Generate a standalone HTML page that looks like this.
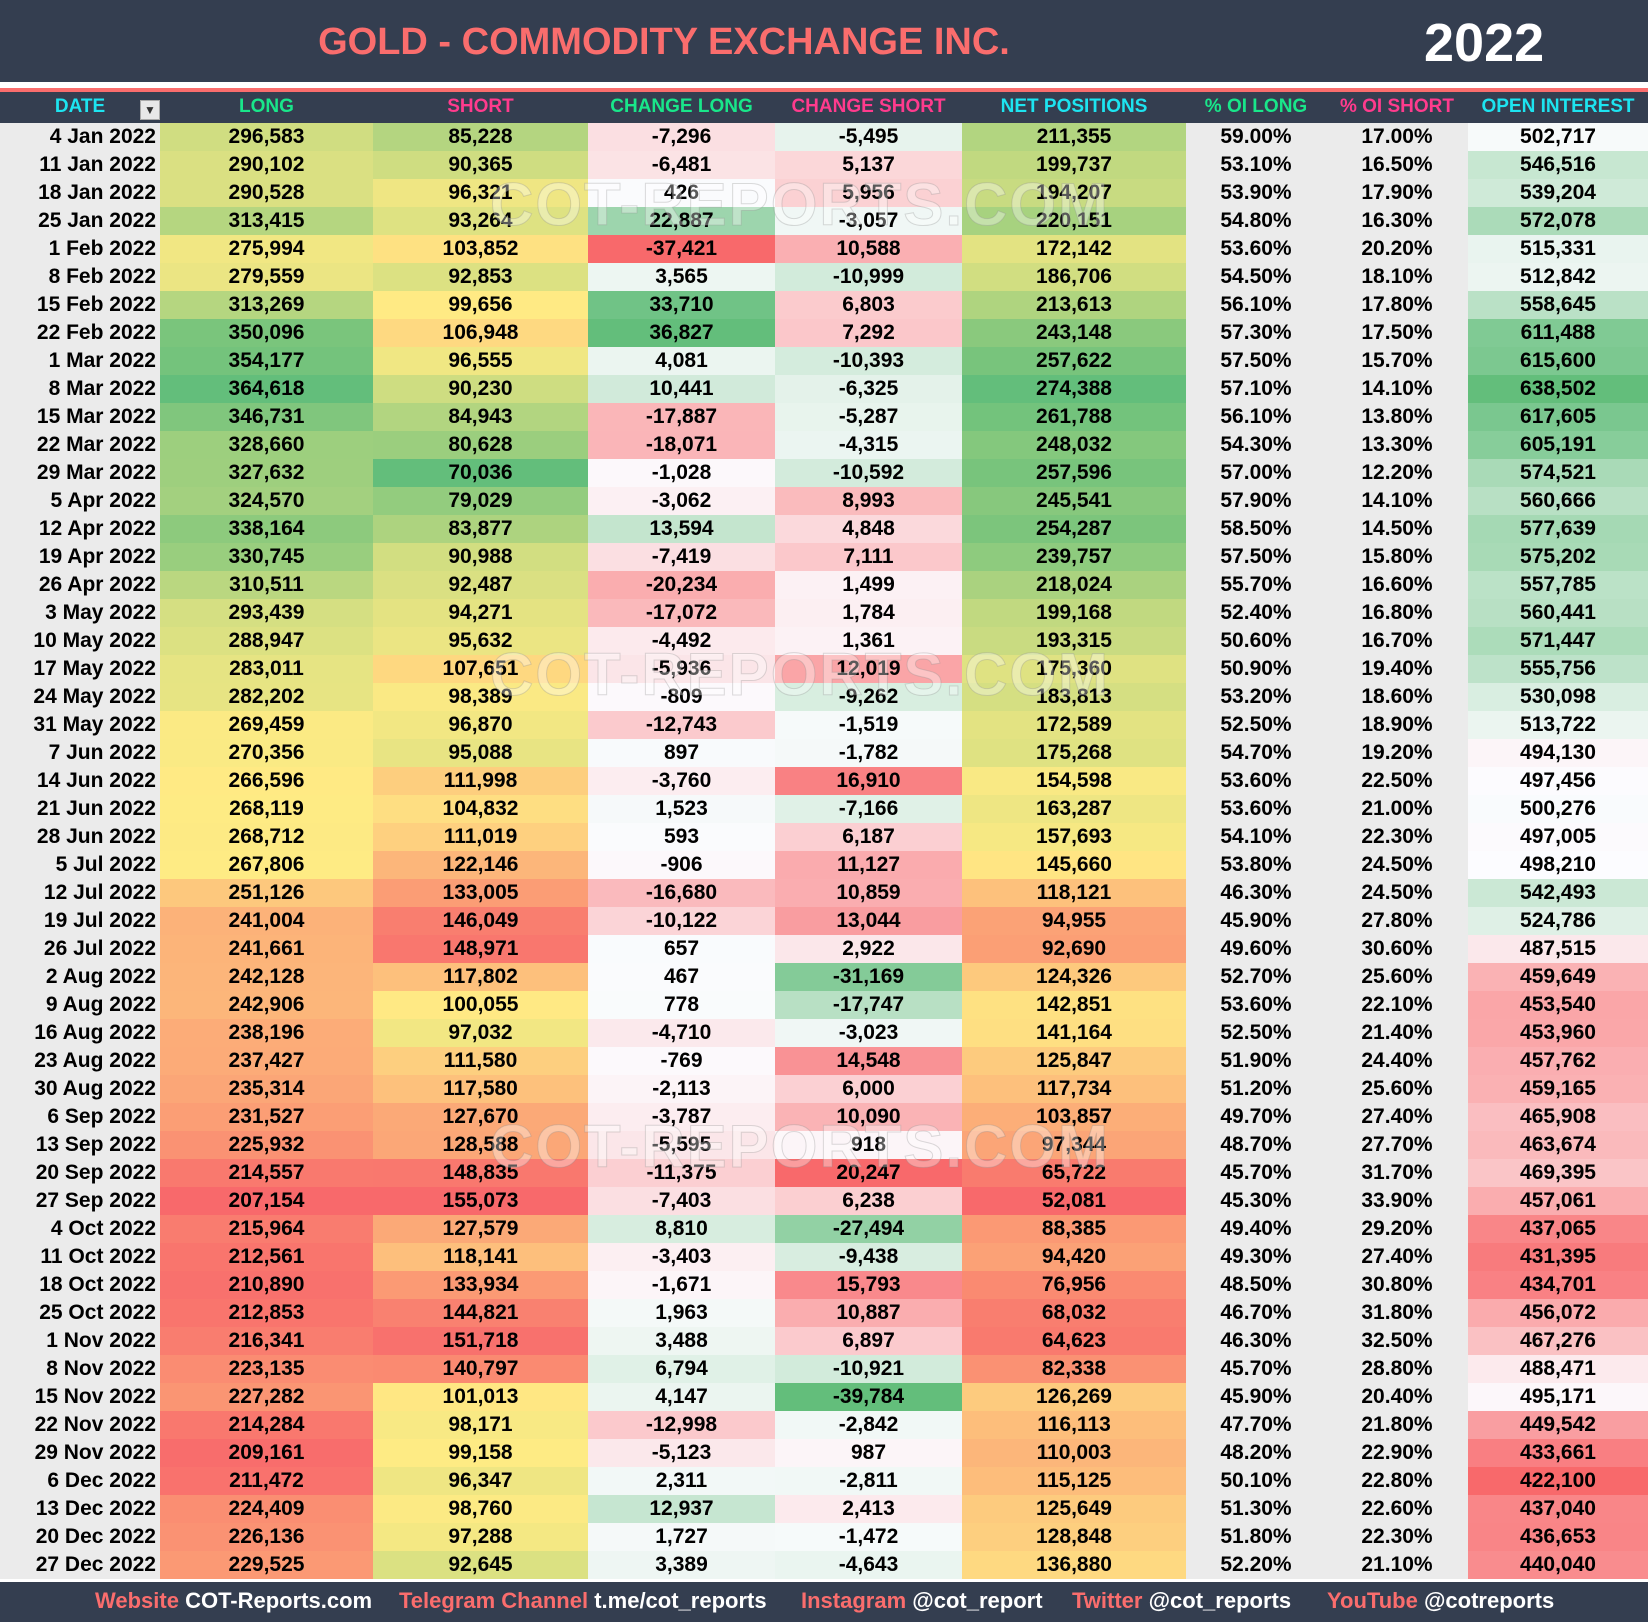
<!DOCTYPE html><html><head><meta charset="utf-8"><style>
body{margin:0;width:1648px;height:1622px;background:#fff;position:relative;overflow:hidden;font-family:"Liberation Sans",Arial,sans-serif}
#top{position:absolute;left:0;top:0;width:1648px;height:82px;background:#343e50}
#title{position:absolute;left:0;width:1328px;top:21px;text-align:center;color:#fa6d6d;font-weight:bold;font-size:38px}
#year{position:absolute;left:1424px;top:12px;color:#fff;font-weight:bold;font-size:54px}
#red{position:absolute;left:0;top:88px;width:1648px;height:4px;background:#fa6d6d}
#hdr{position:absolute;left:0;top:92px;width:1648px;height:31px;background:#343e50}
.h{position:absolute;top:96px;font-weight:bold;font-size:19px;text-align:center}
.c{position:absolute;font-weight:bold;font-size:21px;text-align:center;color:#000}
#foot{position:absolute;left:0;top:1582px;width:1648px;height:40px;background:#343e50;font-size:22px;color:#fff;line-height:38px;font-weight:bold}
#foot span.r{color:#fa6d6d}
.wm{position:absolute;font-size:60px;font-weight:bold;color:rgba(255,255,255,0.35);-webkit-text-stroke:1px rgba(140,140,140,0.3);letter-spacing:2px;white-space:nowrap}
</style></head><body>
<div id="top"></div><div id="title">GOLD - COMMODITY EXCHANGE INC.</div><div id="year">2022</div>
<div id="red"></div><div id="hdr"></div>
<div id="tbl"></div>
<div class="wm" style="left:490px;top:170px">COT-REPORTS.COM</div>
<div class="wm" style="left:490px;top:640px">COT-REPORTS.COM</div>
<div class="wm" style="left:490px;top:1112px">COT-REPORTS.COM</div>
<div id="foot">
<div style="position:absolute;left:95px"><span class="r">Website</span> COT-Reports.com</div>
<div style="position:absolute;left:399px"><span class="r">Telegram Channel</span> t.me/cot_reports</div>
<div style="position:absolute;left:801px"><span class="r">Instagram</span> @cot_report</div>
<div style="position:absolute;left:1072px"><span class="r">Twitter</span> @cot_reports</div>
<div style="position:absolute;left:1327px"><span class="r">YouTube</span> @cotreports</div>
</div>
<script>
var D=`4 Jan 2022|296583|85228|-7296|-5495|211355|59.00%|17.00%|502717
11 Jan 2022|290102|90365|-6481|5137|199737|53.10%|16.50%|546516
18 Jan 2022|290528|96321|426|5956|194207|53.90%|17.90%|539204
25 Jan 2022|313415|93264|22887|-3057|220151|54.80%|16.30%|572078
1 Feb 2022|275994|103852|-37421|10588|172142|53.60%|20.20%|515331
8 Feb 2022|279559|92853|3565|-10999|186706|54.50%|18.10%|512842
15 Feb 2022|313269|99656|33710|6803|213613|56.10%|17.80%|558645
22 Feb 2022|350096|106948|36827|7292|243148|57.30%|17.50%|611488
1 Mar 2022|354177|96555|4081|-10393|257622|57.50%|15.70%|615600
8 Mar 2022|364618|90230|10441|-6325|274388|57.10%|14.10%|638502
15 Mar 2022|346731|84943|-17887|-5287|261788|56.10%|13.80%|617605
22 Mar 2022|328660|80628|-18071|-4315|248032|54.30%|13.30%|605191
29 Mar 2022|327632|70036|-1028|-10592|257596|57.00%|12.20%|574521
5 Apr 2022|324570|79029|-3062|8993|245541|57.90%|14.10%|560666
12 Apr 2022|338164|83877|13594|4848|254287|58.50%|14.50%|577639
19 Apr 2022|330745|90988|-7419|7111|239757|57.50%|15.80%|575202
26 Apr 2022|310511|92487|-20234|1499|218024|55.70%|16.60%|557785
3 May 2022|293439|94271|-17072|1784|199168|52.40%|16.80%|560441
10 May 2022|288947|95632|-4492|1361|193315|50.60%|16.70%|571447
17 May 2022|283011|107651|-5936|12019|175360|50.90%|19.40%|555756
24 May 2022|282202|98389|-809|-9262|183813|53.20%|18.60%|530098
31 May 2022|269459|96870|-12743|-1519|172589|52.50%|18.90%|513722
7 Jun 2022|270356|95088|897|-1782|175268|54.70%|19.20%|494130
14 Jun 2022|266596|111998|-3760|16910|154598|53.60%|22.50%|497456
21 Jun 2022|268119|104832|1523|-7166|163287|53.60%|21.00%|500276
28 Jun 2022|268712|111019|593|6187|157693|54.10%|22.30%|497005
5 Jul 2022|267806|122146|-906|11127|145660|53.80%|24.50%|498210
12 Jul 2022|251126|133005|-16680|10859|118121|46.30%|24.50%|542493
19 Jul 2022|241004|146049|-10122|13044|94955|45.90%|27.80%|524786
26 Jul 2022|241661|148971|657|2922|92690|49.60%|30.60%|487515
2 Aug 2022|242128|117802|467|-31169|124326|52.70%|25.60%|459649
9 Aug 2022|242906|100055|778|-17747|142851|53.60%|22.10%|453540
16 Aug 2022|238196|97032|-4710|-3023|141164|52.50%|21.40%|453960
23 Aug 2022|237427|111580|-769|14548|125847|51.90%|24.40%|457762
30 Aug 2022|235314|117580|-2113|6000|117734|51.20%|25.60%|459165
6 Sep 2022|231527|127670|-3787|10090|103857|49.70%|27.40%|465908
13 Sep 2022|225932|128588|-5595|918|97344|48.70%|27.70%|463674
20 Sep 2022|214557|148835|-11375|20247|65722|45.70%|31.70%|469395
27 Sep 2022|207154|155073|-7403|6238|52081|45.30%|33.90%|457061
4 Oct 2022|215964|127579|8810|-27494|88385|49.40%|29.20%|437065
11 Oct 2022|212561|118141|-3403|-9438|94420|49.30%|27.40%|431395
18 Oct 2022|210890|133934|-1671|15793|76956|48.50%|30.80%|434701
25 Oct 2022|212853|144821|1963|10887|68032|46.70%|31.80%|456072
1 Nov 2022|216341|151718|3488|6897|64623|46.30%|32.50%|467276
8 Nov 2022|223135|140797|6794|-10921|82338|45.70%|28.80%|488471
15 Nov 2022|227282|101013|4147|-39784|126269|45.90%|20.40%|495171
22 Nov 2022|214284|98171|-12998|-2842|116113|47.70%|21.80%|449542
29 Nov 2022|209161|99158|-5123|987|110003|48.20%|22.90%|433661
6 Dec 2022|211472|96347|2311|-2811|115125|50.10%|22.80%|422100
13 Dec 2022|224409|98760|12937|2413|125649|51.30%|22.60%|437040
20 Dec 2022|226136|97288|1727|-1472|128848|51.80%|22.30%|436653
27 Dec 2022|229525|92645|3389|-4643|136880|52.20%|21.10%|440040`.split("\n").map(l=>l.split("|"));
var X=[0,160,373,588,775,962,1186,1326,1468,1648];
var H=[["DATE","#1de4f0"],["LONG","#19e68a"],["SHORT","#ff3b8d"],["CHANGE LONG","#19e68a"],["CHANGE SHORT","#ff3b8d"],["NET POSITIONS","#1de4f0"],["% OI LONG","#19e68a"],["% OI SHORT","#ff3b8d"],["OPEN INTEREST","#1de4f0"]];
var out="";
H.forEach((h,i)=>{var l=X[i],w=X[i+1]-X[i];if(i==0)w=160;out+=`<div class="h" style="left:${l}px;width:${w}px;color:${h[1]}">${h[0]}</div>`});
out+=`<div style="position:absolute;left:140px;top:100px;width:18px;height:18px;background:#e8e8e8;border:1px solid #aaa;font-size:12px;text-align:center;line-height:18px;color:#333">&#x25BC;</div>`;
var R=[248,105,107],Y=[255,235,132],G=[99,190,123],W=[252,252,255];
function mix(a,b,t){return "rgb("+a.map((v,i)=>Math.round(v+(b[i]-v)*t)).join(",")+")"}
function med(a){var s=a.slice().sort((x,y)=>x-y);var n=s.length;return (s[n/2-1]+s[n/2])/2}
function scale(col,hiGood,mid,midC,useMid0){var v=D.map(r=>+r[col]);var mn=Math.min(...v),mx=Math.max(...v);var m=useMid0?0:med(v);
return v.map(x=>{var lo=hiGood?R:G,hi=hiGood?G:R;if(x<=m)return mix(lo,midC,(x-mn)/(m-mn));return mix(midC,hi,(x-m)/(mx-m))})}
var C={1:scale(1,1,0,Y),2:scale(2,0,0,Y),3:scale(3,1,0,W,1),4:scale(4,0,0,W,1),5:scale(5,1,0,Y),8:scale(8,1,0,W)};
function fmt(n){return (+n).toLocaleString("en-US")}
var top0=123,rh=28.0;
D.forEach((r,ri)=>{var t=Math.round(top0+ri*rh),b=Math.round(top0+(ri+1)*rh);
for(var c=0;c<9;c++){var bg=C[c]?C[c][ri]:"#ebebeb";var txt=c==0||c==6||c==7?r[c]:fmt(r[c]);
var st=c==0?"text-align:right;padding-right:4px;box-sizing:border-box;":"";
out+=`<div class="c" style="${st}left:${X[c]}px;width:${X[c+1]-X[c]}px;top:${t}px;height:${b-t}px;line-height:${b-t}px;background:${bg}">${txt}</div>`}});
document.getElementById("tbl").innerHTML=out;
</script>
</body></html>
